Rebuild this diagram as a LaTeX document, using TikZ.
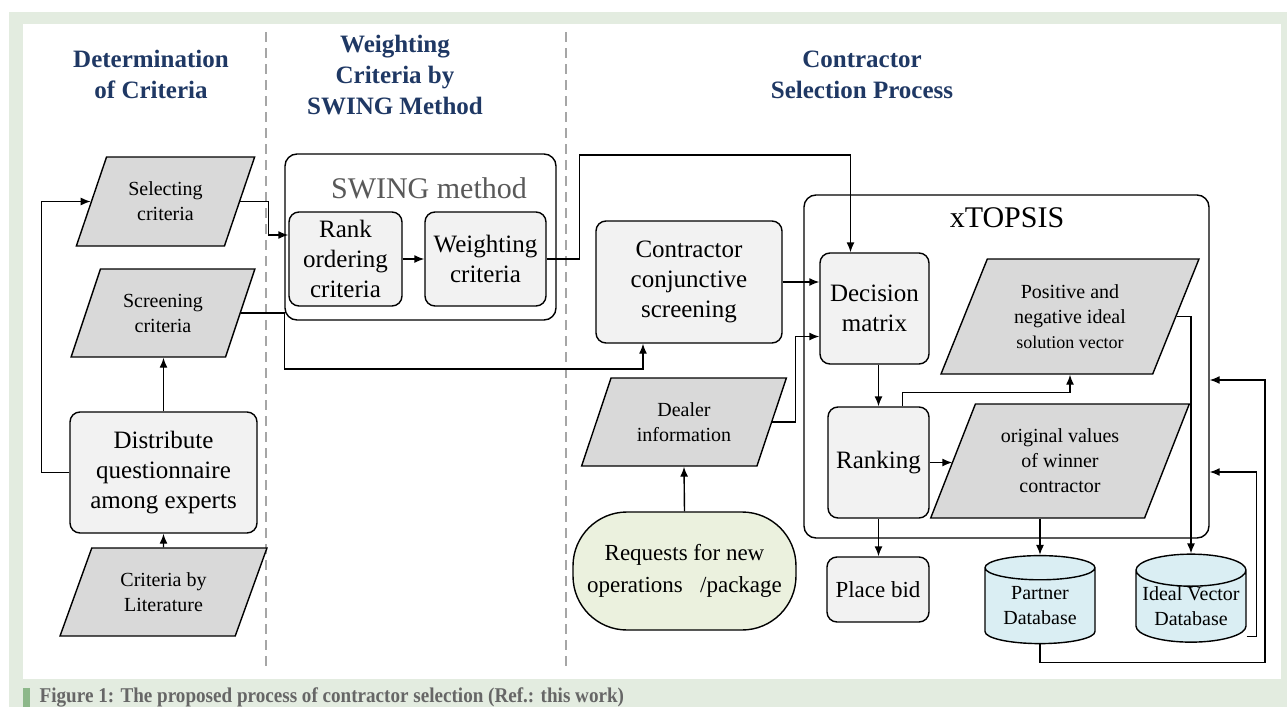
\documentclass[tikz,border=0pt]{standalone}
\usepackage{fontspec}
\setmainfont{Liberation Serif}
\newfontfamily\capfont[FakeStretch=0.91]{Liberation Serif}
\usetikzlibrary{shapes.geometric,arrows.meta}
\definecolor{headblue}{HTML}{1F3864}
\definecolor{boxgray}{HTML}{F2F2F2}
\definecolor{pargray}{HTML}{D9D9D9}
\definecolor{dbblue}{HTML}{DAEEF3}
\definecolor{reqgreen}{HTML}{EBF1DE}
\definecolor{titlegray}{HTML}{595959}
\definecolor{lanegray}{HTML}{A6A6A6}
\definecolor{bggreen}{HTML}{E3ECE0}
\definecolor{bargreen}{HTML}{8DB88A}
\definecolor{capgray}{HTML}{666666}
\begin{document}
\begin{tikzpicture}[x=25pt,y=25pt,line width=0.7pt,
	lx/.tip={Latex[length=5pt,width=4pt]},
	stepbox/.style={draw,rounded corners=5pt,fill=boxgray,align=center,inner sep=0pt,font=\fontsize{12.5}{15}\selectfont},
	datapar/.style={draw,trapezium,trapezium left angle=64,trapezium right angle=116,trapezium stretches,fill=pargray,align=center,inner sep=0pt,font=\fontsize{10}{12.5}\selectfont},
	methodbox/.style={draw,rounded corners=6pt,inner sep=0pt},
	dbase/.style={draw,cylinder,shape border rotate=90,aspect=0.33,fill=dbblue,align=center,inner sep=0pt,font=\fontsize{10}{12.5}\selectfont},
	phasetitle/.style={text=headblue,align=center,font=\bfseries\fontsize{12.5}{15.5}\selectfont},
	lane/.style={draw=lanegray,line width=1pt,dash pattern=on 5pt off 3pt}]
		\useasboundingbox (0,0) rectangle (25.74,-14.14);
		\fill [white] (0,0) rectangle (25.74,-14.14);
		\fill [bggreen] (0.18,-0.24) rectangle (25.74,-14.14);
		\fill [white] (0.46,-0.48) rectangle (25.62,-13.58);
		\fill [bargreen] (0.46,-13.76) rectangle (0.6,-14.14);
		\node [anchor=west,text=capgray,inner sep=0pt,font=\capfont\bfseries\fontsize{10.5}{12}\selectfont] (v24) at (0.78,-13.95) {Figure 1: The proposed process of contractor selection (Ref.: this work)};
		\draw [lane] (5.32,-0.64) -- (5.32,-13.36);
		\draw [lane] (11.32,-0.64) -- (11.32,-13.36);
		\node [phasetitle] (v1) at (3.02,-1.49) {Determination\\of Criteria};
		\node [phasetitle] (v2) at (7.9,-1.5) {Weighting\\Criteria by\\SWING Method};
		\node [phasetitle] (v3) at (17.24,-1.49) {Contractor\\Selection Process};
		\node [datapar,minimum width=89.5pt,minimum height=44.5pt] (v4) at (3.31,-4.03) {Selecting\\criteria};
		\node [datapar,minimum width=92pt,minimum height=44pt] (v5) at (3.26,-6.26) {Screening\\criteria};
		\node [stepbox,minimum width=93.5pt,minimum height=60.5pt] (v6) at (3.27,-9.45) {Distribute\\questionnaire\\among experts};
		\node [datapar,minimum width=103.5pt,minimum height=44pt] (v7) at (3.27,-11.84) {Criteria by\\Literature};
		\node [methodbox,minimum width=135.5pt,minimum height=83pt] (v8) at (8.41,-4.74) {};
		\node [text=titlegray,font=\fontsize{15}{18}\selectfont] (v9) at (8.58,-3.76) {SWING method};
		\node [stepbox,minimum width=56.5pt,minimum height=47pt] (v10) at (6.91,-5.18) {Rank\\ordering\\criteria};
		\node [stepbox,minimum width=60.5pt,minimum height=47pt] (v11) at (9.71,-5.18) {Weighting\\criteria};
		\node [stepbox,minimum width=93pt,minimum height=61pt] (v12) at (13.78,-5.64) {Contractor\\conjunctive\\screening};
		\node [datapar,minimum width=103pt,minimum height=44pt] (v13) at (13.68,-8.44) {Dealer\\information};
		\node [draw,rounded corners=27pt,fill=reqgreen,align=center,inner sep=0pt,minimum width=111.5pt,minimum height=59pt,font=\fontsize{11.5}{16}\selectfont] (v14) at (13.69,-11.42) {Requests for new\\operations~~~/package};
		\node [methodbox,minimum width=202.5pt,minimum height=171.5pt] (v15) at (20.13,-7.33) {};
		\node [font=\fontsize{15}{18}\selectfont] (v16) at (20.14,-4.36) {xTOPSIS};
		\node [stepbox,minimum width=54.5pt,minimum height=55.5pt] (v17) at (17.49,-6.17) {Decision\\matrix};
		\node [datapar,minimum width=130pt,minimum height=57.5pt] (v18) at (21.4,-6.33) {Positive and\\negative ideal\\{\fontsize{9}{12.5}\selectfont solution vector}};
		\node [stepbox,minimum width=50.5pt,minimum height=55.5pt] (v19) at (17.57,-9.25) {Ranking};
		\node [datapar,minimum width=130pt,minimum height=57pt] (v20) at (21.2,-9.22) {original values\\of winner\\contractor};
		\node [stepbox,minimum width=51pt,minimum height=32.5pt,font=\fontsize{11.5}{14}\selectfont] (v21) at (17.56,-11.79) {Place bid};
		\node [dbase,minimum width=55pt,minimum height=44pt] (v22) at (20.8,-12.12) {Partner\\Database};
		\node [dbase,minimum width=55pt,minimum height=44pt] (v23) at (23.82,-12.13) {Ideal Vector\\Database};
		\draw [-lx] (v7.north) -- (v6.south);
		\draw [-lx] (v6.north) -- (v6.north |- v5.south);
		\draw [-lx] (v6.west) -- ++(-0.56,0) |- (v4);
		\draw [-lx] (v4.east) -- ++(0.56,0) |- ([yshift=12pt]v10.west);
		\draw [-lx] (v5.east) -- ++(0.87,0) -- ++(0,-1.12) -| ([xshift=-23pt]v12.south);
		\draw [-lx] (v10) -- (v11);
		\draw [-lx] (v11.east) -- ++(0.66,0) -- ++(0,2.08) -| ([xshift=-12pt]v17.north);
		\draw [-lx] (v12.east) -- (v12.east -| v17.west);
		\draw [-lx] (v14.north) -- (v13.south);
		\draw [-lx] (v13.east) -- ++(0.46,0) |- ([yshift=-14pt]v17.west);
		\draw [-lx] (v17.south -| v19.north) -- (v19.north);
		\draw [-lx] ([xshift=12pt]v19.north) -- ++(0,0.28) -| (v18.south);
		\draw [-lx] (v19.east) -- (v19.east -| v20.west);
		\draw [-lx] (v19.south) -- (v19.south |- v21.north);
		\draw [-lx] (v22.north |- v20.south) -- (v22.north);
		\draw [-lx] (v18.east) -| (v23.north);
		\draw [-lx] ([yshift=-15pt]v23.east) -- ++(0.2,0) |- ([yshift=-52.75pt]v15.east);
		\draw [-lx] (v22.south) -- ++(0,-0.36) -- ++(4.5,0) |- ([yshift=-6.75pt]v15.east);
		\end{tikzpicture}
\end{document}
